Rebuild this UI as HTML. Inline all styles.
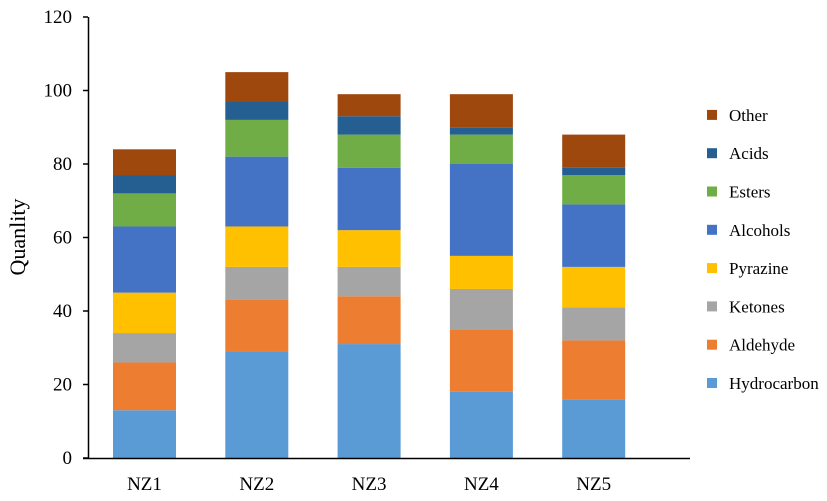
<!DOCTYPE html>
<html><head><style>body{margin:0;background:#fff}svg{display:block}text{font-family:"Liberation Serif",serif;fill:#000}</style></head>
<body>
<svg width="827" height="501" xmlns="http://www.w3.org/2000/svg" id="c"></svg>
<script>
const s=document.getElementById('c');
const y0=458,k=441/120;
const Y=v=>y0-v*k;
const cols=['#5b9bd5','#ed7d31','#a5a5a5','#ffc000','#4472c4','#70ad47','#255e91','#9e480e'];
const names=['Hydrocarbon','Aldehyde','Ketones','Pyrazine','Alcohols','Esters','Acids','Other'];
const data=[[13,26,34,45,63,72,77,84],[29,43,52,63,82,92,97,105],[31,44,52,62,79,88,93,99],[18,35,46,55,80,88,90,99],[16,32,41,52,69,77,79,88]];
let h='';
data.forEach((d,i)=>{const x=113+i*112.3;let p=0;d.forEach((v,j)=>{h+=`<rect x="${x}" y="${Y(v)}" width="63" height="${Y(p)-Y(v)}" fill="${cols[j]}"/>`;p=v;});
h+=`<text x="${x+31.5}" y="490" font-size="19" text-anchor="middle">NZ${i+1}</text>`;});
h+=`<line x1="88.5" y1="17" x2="88.5" y2="458.5" stroke="#000" stroke-width="1.5"/><line x1="83" y1="458.5" x2="690" y2="458.5" stroke="#000" stroke-width="1.5"/>`;
for(let v=0;v<=120;v+=20){h+=`<line x1="83" x2="88" y1="${Y(v)}" y2="${Y(v)}" stroke="#000" stroke-width="1.5"/><text x="72" y="${Y(v)+6}" font-size="19" text-anchor="end">${v}</text>`;}
h+=`<text transform="translate(25,237) rotate(-90)" font-size="22" text-anchor="middle">Quanlity</text>`;
for(let j=0;j<8;j++){const yy=383-j*38.3;h+=`<rect x="707" y="${yy-5}" width="10" height="10" fill="${cols[j]}"/><text x="729" y="${yy+6}" font-size="17">${names[j]}</text>`;}
s.innerHTML=h;
</script>
</body></html>
